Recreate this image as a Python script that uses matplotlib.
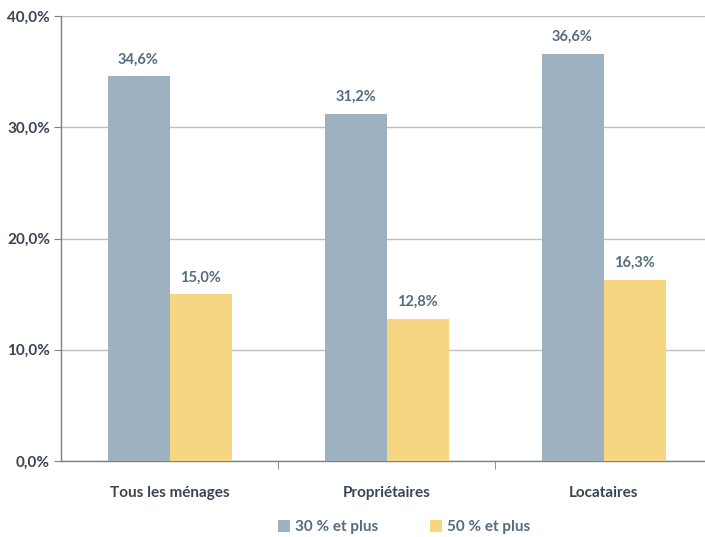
import matplotlib
matplotlib.use("Agg")
import matplotlib.pyplot as plt
import numpy as np

categories = ["Tous les ménages", "Propriétaires", "Locataires"]
series_names = ["30 % et plus", "50 % et plus"]
vals_30 = [34.6, 31.2, 36.6]
vals_50 = [15.0, 12.8, 16.3]
yticks = [0, 10, 20, 30, 40]

colors = ["#9EB1C0", "#F6D682"]
text_dark = "#3B4452"
label_col = "#566B7E"

plt.rcParams['font.family'] = ['Lato', 'DejaVu Sans']

fig = plt.figure(figsize=(7.05, 5.37), dpi=100)
ax = fig.add_axes([61/705, 1-461/537, 1-61/705, (461-16)/537])

x = np.arange(len(categories))
w = 62/217
b1 = ax.bar(x - w/2, vals_30, w, color=colors[0], label=series_names[0], zorder=3)
b2 = ax.bar(x + w/2, vals_50, w, color=colors[1], label=series_names[1], zorder=3)

for bars, vals in ((b1, vals_30), (b2, vals_50)):
    for r, v in zip(bars, vals):
        ax.annotate(f"{v:.1f}%".replace(".", ","), (r.get_x() + r.get_width()/2, v),
                    xytext=(0, 7), textcoords="offset points", ha="center", va="bottom",
                    fontsize=10.5, fontweight="bold", color=label_col)

ax.set_ylim(0, 40)
ax.set_yticks(yticks)
ax.set_yticklabels([f"{t:.1f}%".replace(".", ",") for t in yticks])
ax.set_xlim(-0.5, 2.5 - 7/217)
ax.set_xticks(x)
ax.set_xticklabels(categories)
ax.set_xticks([0.5, 1.5], minor=True)
ax.tick_params(axis='x', which='major', length=0, pad=18, labelsize=11, labelcolor=text_dark)
ax.tick_params(axis='x', which='minor', length=6, color="#808080", direction='out')
ax.tick_params(axis='y', length=5, color="#808080", labelsize=11, labelcolor=text_dark, pad=3)
for lab in ax.get_xticklabels() + ax.get_yticklabels():
    lab.set_fontweight("bold")

ax.grid(axis='y', color="#BFBFBF", linewidth=1, zorder=0)
for s in ["top", "right"]:
    ax.spines[s].set_visible(False)
ax.spines["left"].set_color("#808080")
ax.spines["bottom"].set_color("#808080")
ax.spines["left"].set_linewidth(1)
ax.spines["bottom"].set_linewidth(1)

leg = fig.legend(handles=[b1, b2], labels=series_names, loc="center", bbox_to_anchor=(404/705, 1-527/537),
                 ncol=2, frameon=False, handlelength=0.8, handleheight=0.8, handletextpad=0.3,
                 columnspacing=3.4, prop={'weight': 'bold', 'size': 11})
for t in leg.get_texts():
    t.set_color(label_col)

fig.savefig("out.png", dpi=100)
